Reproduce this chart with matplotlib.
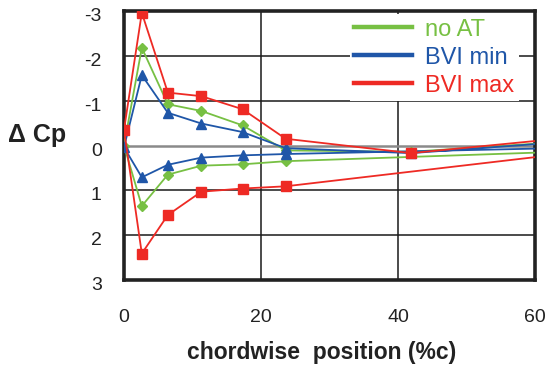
import matplotlib
matplotlib.use("Agg")
import matplotlib.pyplot as plt
from matplotlib.lines import Line2D
from matplotlib.transforms import ScaledTranslation

# ---- data ----
x_upper = [0, 2.6, 6.4, 11.3, 17.3, 23.6, 41.9, 60]
x_lower = [0, 2.6, 6.4, 11.3, 17.3, 23.6, 60]

noat_upper = [0.0, -2.18, -0.92, -0.77, -0.45, 0.11, 0.14, -0.04]
noat_lower = [0.0, 1.35, 0.65, 0.45, 0.42, 0.35, 0.16]
bvimin_upper = [0.04, -1.57, -0.73, -0.49, -0.30, 0.06, 0.17, -0.03]
bvimin_lower = [0.04, 0.71, 0.43, 0.27, 0.22, 0.19, 0.07]
bvimax_upper = [-0.35, -2.96, -1.18, -1.10, -0.81, -0.15, 0.17, -0.10]
bvimax_lower = [-0.35, 2.41, 1.55, 1.03, 0.96, 0.91, 0.26]

series_names = ["no AT", "BVI min", "BVI max"]
x_ticks = [0, 20, 40, 60]
y_ticks = [-3, -2, -1, 0, 1, 2, 3]
y_tick_labels = ["-3", "-2", "-1", "0", "1", "2", "3"]

colors = ["#77c043", "#1f56a8", "#ee2a24"]
markers = ["D", "^", "s"]
msizes = [5, 6.5, 6.5]

plt.rcParams["font.family"] = ["Liberation Sans", "DejaVu Sans"]

fig = plt.figure(figsize=(5.48, 3.65), dpi=100)
ax = fig.add_axes([124 / 548, 1 - 280 / 365, (535 - 124) / 548, (280 - 11) / 365])

ax.set_xlim(0, 60)
ax.set_ylim(3, -3)

for xv in [20, 40]:
    ax.axvline(xv, color="#1a1a1a", lw=1.1, zorder=1)
for yv in [-2, -1, 1, 2]:
    ax.axhline(yv, color="#1a1a1a", lw=1.1, zorder=1)
ax.axhline(0, color="#8a8a8a", lw=1.8, zorder=1)

data = [(noat_upper, noat_lower), (bvimin_upper, bvimin_lower), (bvimax_upper, bvimax_lower)]
for i, (up, lo) in enumerate(data):
    xs = x_upper[::-1] + x_lower[1:]
    ys = up[::-1] + lo[1:]
    n = len(xs)
    ax.plot(xs, ys, color=colors[i], lw=1.3, marker=markers[i], ms=msizes[i],
            markevery=list(range(1, n - 1)), zorder=3 + i)

ax.set_xticks(x_ticks)
ax.set_xticklabels([str(v) for v in x_ticks], fontsize=14)
ax.set_yticks(y_ticks)
ax.set_yticklabels(y_tick_labels, fontsize=14)
ax.tick_params(axis="both", length=0, colors="#222222")
ax.tick_params(axis="y", pad=16)
ax.tick_params(axis="x", pad=21)
shift = ScaledTranslation(0, -3.5 / 100, fig.dpi_scale_trans)
for lab in ax.get_yticklabels():
    lab.set_transform(lab.get_transform() + shift)

for s in ax.spines.values():
    s.set_linewidth(2.6)
    s.set_color("#222222")

ax.set_xlabel("chordwise  position (%c)", fontsize=16.5, fontweight="bold",
              color="#222222")
ax.xaxis.set_label_coords((322 - 124) / 411, (280 - 352) / 269)
ax.xaxis.label.set_va("center")
fig.text(37 / 548, 1 - 135 / 365, "\u0394 Cp", fontsize=18, fontweight="bold",
         color="#222222", ha="center", va="center")

handles = [Line2D([0], [0], color=c, lw=3.2) for c in colors]
leg = ax.legend(handles, series_names, loc="upper right",
                bbox_to_anchor=(519 / 548, 1 - 14 / 365), bbox_transform=fig.transFigure,
                frameon=True, fancybox=False, edgecolor="none", facecolor="white",
                framealpha=1, prop={"size": 17},
                handlelength=2.45, handletextpad=0.55, labelspacing=0.25,
                borderpad=0.2, borderaxespad=0)
for t, c in zip(leg.get_texts(), colors):
    t.set_color(c)
leg.set_zorder(10)

fig.savefig("out.png", dpi=100)
